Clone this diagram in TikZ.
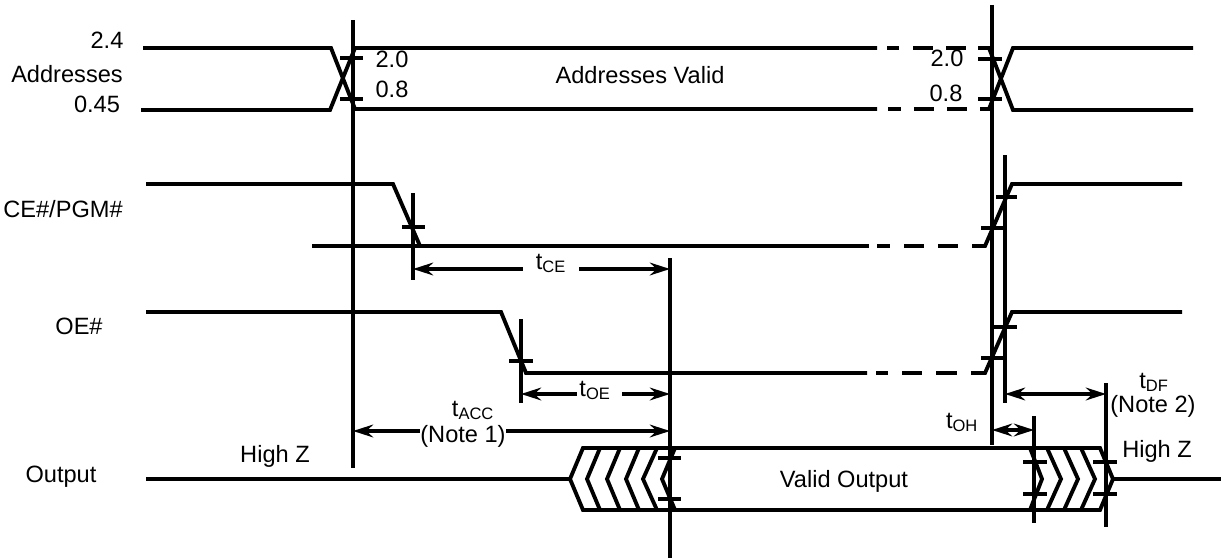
\documentclass[tikz,border=0pt]{standalone}
\usepackage{fontspec}
\setmainfont{Liberation Sans}
\usetikzlibrary{arrows.meta}

\begin{document}
\begin{tikzpicture}[
    x=0.75pt, y=-0.75pt,
    wave/.style={line width=2.9pt, line join=miter},
    tick/.style={line width=2.5pt},
    refline/.style={line width=2.3pt},
    timing/.style={line width=2.6pt, {Stealth[length=15pt,width=9.5pt]}-{Stealth[length=15pt,width=9.5pt]}},
    timingleft/.style={line width=2.6pt, {Stealth[length=15pt,width=9.5pt]}-},
    timingright/.style={line width=2.6pt, -{Stealth[length=15pt,width=9.5pt]}},
    label/.style={font=\fontsize{17.7}{21}\selectfont, inner sep=0pt, anchor=base}
]
\useasboundingbox (0,0) rectangle (1221,560);

% Addresses
\draw[wave] (143,48) -- (331,48) -- (355,109) -- (877,109);
\draw[wave] (141,110) -- (330,110) -- (355,48) -- (877,48);
\foreach \xa/\xb in {887/899, 913/933, 946/966}
    \draw[wave] (\xa,48) -- (\xb,48);
\foreach \xa/\xb in {888/901, 914/934, 947/967}
    \draw[wave] (\xa,109) -- (\xb,109);
\draw[wave] (978,48) -- (989,48) -- (1013,110) -- (1193,110);
\draw[wave] (980,109) -- (989,109) -- (1013,48) -- (1193,48);

% CE#/PGM#
\draw[wave] (146,184) -- (393,184) -- (420,246);
\draw[wave] (312,246) -- (869,246);
\foreach \xa/\xb in {877/890, 904/924, 938/958}
    \draw[wave] (\xa,246) -- (\xb,246);
\draw[wave] (972,246) -- (985,246) -- (1012,184) -- (1182,184);

% OE#
\draw[wave] (146,312) -- (501,312) -- (526,373) -- (867,373);
\foreach \xa/\xb in {876/888, 902/922, 936/957}
    \draw[wave] (\xa,373) -- (\xb,373);
\draw[wave] (971,373) -- (985,373) -- (1012,312) -- (1182,312);

% Output
\draw[wave] (146,479) -- (570,479);
\draw[wave] (570,479) -- (583,448) -- (1100,448) -- (1113,479) -- (1100,510) -- (583,510) -- cycle;
\draw[wave] (1113,479) -- (1221,479);

% Chevrons
\foreach \tipx/\topx in {587/600, 607/620, 626/639, 643/657, 662/675}
    \draw[wave] (\topx,448) -- (\tipx,479) -- (\topx,510);
\foreach \tipx/\topx in {1042/1030, 1061/1047, 1078/1064, 1095/1081}
    \draw[wave] (\topx,448) -- (\tipx,479) -- (\topx,510);

% Vertical reference lines
\draw[refline] (353,20) -- (353,468);
\draw[refline] (992,5) -- (992,445);
\draw[refline] (1005,155) -- (1005,403);
\draw[refline] (413,193) -- (413,280);
\draw[refline] (521,319) -- (521,403);
\draw[refline] (670,258) -- (670,558);
\draw[refline] (1034,416) -- (1034,523);
\draw[refline] (1106,383) -- (1106,527);

% Level ticks
\foreach \xa/\xb/\ya in {340/363/58, 340/363/99, 978/1002/59, 978/1002/99,
    402/425/227, 509/533/361, 996/1017/197, 981/1004/228, 993/1017/327, 981/1004/358,
    658/681/458, 658/681/499, 1023/1047/462, 1023/1047/494, 1093/1117/462, 1093/1117/494}
    \draw[tick] (\xa,\ya) -- (\xb,\ya);

% Timing arrows
\coordinate (ceL) at (413,269);
\coordinate (ceA) at (523,269);
\coordinate (ceB) at (579,269);
\coordinate (ceR) at (670,269);
\coordinate (oeL) at (521,394);
\coordinate (oeA) at (577,394);
\coordinate (oeB) at (622,394);
\coordinate (oeR) at (670,394);
\coordinate (accL) at (353,431);
\coordinate (accA) at (420,431);
\coordinate (accB) at (506,431);
\coordinate (accR) at (670,431);
\coordinate (dfL) at (1005,394);
\coordinate (dfR) at (1106,394);
\coordinate (ohL) at (992,430);
\coordinate (ohR) at (1034,430);

\draw[timingleft] (ceL) -- (ceA);
\draw[timingright] (ceB) -- (ceR);
\draw[timingleft] (oeL) -- (oeA);
\draw[timingright] (oeB) -- (oeR);
\draw[timingleft] (accL) -- (accA);
\draw[timingright] (accB) -- (accR);
\draw[timing] (dfL) -- (dfR);
\draw[timing] (ohL) -- (ohR);

% Labels
\node[label] (v24) at (107,49) {2.4};
\node[label] (addr) at (67,83) {Addresses};
\node[label] (v045) at (97,113) {0.45};
\node[label] (l20) at (392,68) {2.0};
\node[label] (l08) at (392,98) {0.8};
\node[label] (r20) at (947,67) {2.0};
\node[label] (r08) at (946,102) {0.8};
\node[label] (valid) at (640,84) {Addresses Valid};
\node[label] (ce) at (63,217) {CE\#/PGM\#};
\node[label] (oe) at (79,334) {OE\#};
\node[label] (out) at (61,482) {Output};
\node[label] (hzl) at (275,462) {High Z};
\node[label] (hzr) at (1157,457) {High Z};
\node[label] (vout) at (844,487) {Valid Output};
\node[label] (tce) at (551,269) {t\textsubscript{CE}};
\node[label] (toe) at (595,396) {t\textsubscript{OE}};
\node[label] (tacc) at (473,416) {t\textsubscript{ACC}};
\node[label] (n1) at (463,442) {(Note 1)};
\node[label] (tdf) at (1154,388) {t\textsubscript{DF}};
\node[label] (n2) at (1153,412) {(Note 2)};
\node[label] (toh) at (962,428) {t\textsubscript{OH}};

\end{tikzpicture}
\end{document}
